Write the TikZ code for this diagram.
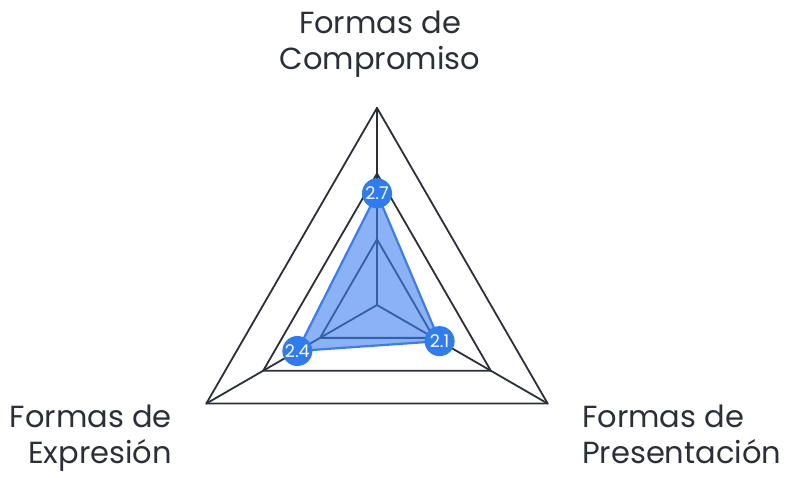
\documentclass[tikz,border=0pt]{standalone}
\usepackage{fontspec}
\setmainfont{Poppins}
\definecolor{gridline}{HTML}{2B2F38}
\definecolor{areafill}{HTML}{3D7FEF}
\definecolor{areaedge}{HTML}{3A7DF0}
\definecolor{dotblue}{HTML}{2F7BF2}
\begin{document}
\begin{tikzpicture}[x=1pt, y=1pt, line join=round, line cap=round,
  grid/.style={draw=gridline, line width=1.8pt},
  axislabel/.style={font=\fontsize{30.5}{36}\selectfont, text=gridline, inner sep=0pt},
  valuedot/.style={circle, fill=dotblue, text=white, minimum size=30pt, inner sep=0pt, font=\fontsize{17.5}{17.5}\selectfont}]
\useasboundingbox (-377,-172) rectangle (409,305);
\def\r{65.7}
% axis ends
\path
(90:3*\r) coordinate (C)
(210:3*\r) coordinate (E)
(330:3*\r) coordinate (P)
(0,0) coordinate (O)
;
% values, centre = 1
\path
(90:1.7*\r) coordinate (vC)
(210:1.4*\r) coordinate (vE)
(330:1.1*\r) coordinate (vP)
;
% grid
\foreach \k in {1,2,3}
\draw[grid] (90:\k*\r)--(210:\k*\r)--(330:\k*\r)--cycle;
\foreach \p in {C,E,P}
\draw[grid] (O)--(\p);
% data area
\fill[areafill, opacity=0.6] (vC)--(vE)--(vP)--cycle;
\draw[areaedge, line width=2.2pt] (vC)--(vE)--(vP)--cycle;
\node[valuedot] (dC) at (vC) {2.7};
\node[valuedot] (dE) at (vE) {2.4};
\node[valuedot] (dP) at (vP) {2.1};
% labels
\node[axislabel, anchor=north, align=center] (lC) at (3,294) {Formas de\\Compromiso};
\node[axislabel, anchor=north east, align=right] (lE) at (-205,-100) {Formas de\\Expresión};
\node[axislabel, anchor=north west, align=left] (lP) at (205,-100) {Formas de\\Presentación};
\end{tikzpicture}
\end{document}
